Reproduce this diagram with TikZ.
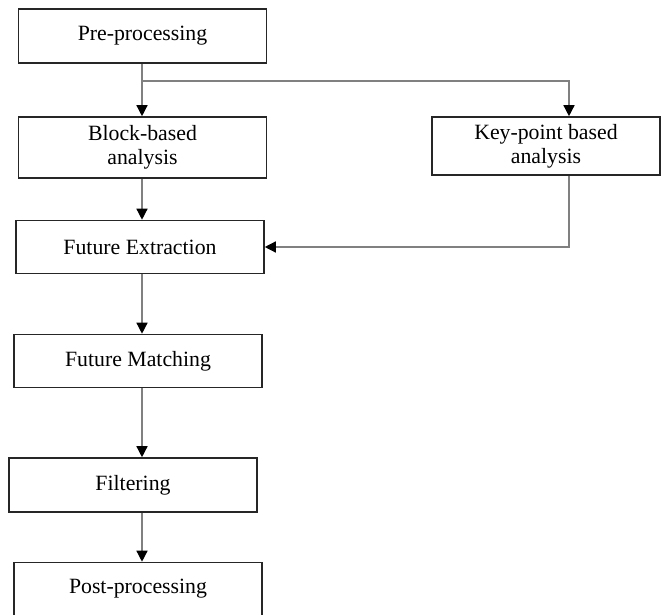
\documentclass[tikz,border=0pt]{standalone}
\usepackage{fontspec}
\setmainfont{Liberation Serif}
\usepackage{tikz}
\usetikzlibrary{arrows.meta, positioning, calc}
\tikzstyle{stage}   = [rectangle, draw=black!85, line width=0.9pt, fill=white,
                        text centered, minimum height=1.06cm, minimum width=4.96cm,
                        font=\fontsize{12.4}{13.6}\selectfont, align=center]
\tikzstyle{arrow}   = [-{Triangle[length=2.2mm, width=2.2mm, color=black]},
                       draw=black!50, line width=0.8pt]

\begin{document}
\begin{tikzpicture}
  \useasboundingbox (0,0) rectangle (13.24,-12.3);

  % Left column
  \node[stage, minimum height=1.08cm] (pre) at (2.85,-0.72) {Pre-processing};
  \node[stage, minimum height=1.22cm] (block) at (2.85,-2.95) {Block-based\\analysis};
  \node[stage] (fext) at (2.8,-4.94) {Future Extraction};
  \node[stage] (fmatch) at (2.76,-7.22) {Future Matching};
  \node[stage, minimum height=1.08cm] (filter) at (2.66,-9.7) {Filtering};
  \node[stage] (post) at (2.76,-11.78) {Post-processing};

  % Right branch
  \node[stage, minimum width=4.56cm, minimum height=1.16cm] (keyp) at (10.92,-2.92) {Key-point based\\analysis};
  \coordinate (split) at (2.84,-1.62);
  \coordinate (kx) at (11.38,0);

  % Arrows
  \draw[arrow] (pre.south -| split) -- (block.north -| split);
  \draw[arrow] (split) -| (keyp.north -| kx);
  \draw[arrow] (block.south -| split) -- (fext.north -| split);
  \draw[arrow] (keyp.south -| kx) |- (fext.east);
  \draw[arrow] (fext.south -| split) -- (fmatch.north -| split);
  \draw[arrow] (fmatch.south -| split) -- (filter.north -| split);
  \draw[arrow] (filter.south -| split) -- (post.north -| split);
\end{tikzpicture}
\end{document}
